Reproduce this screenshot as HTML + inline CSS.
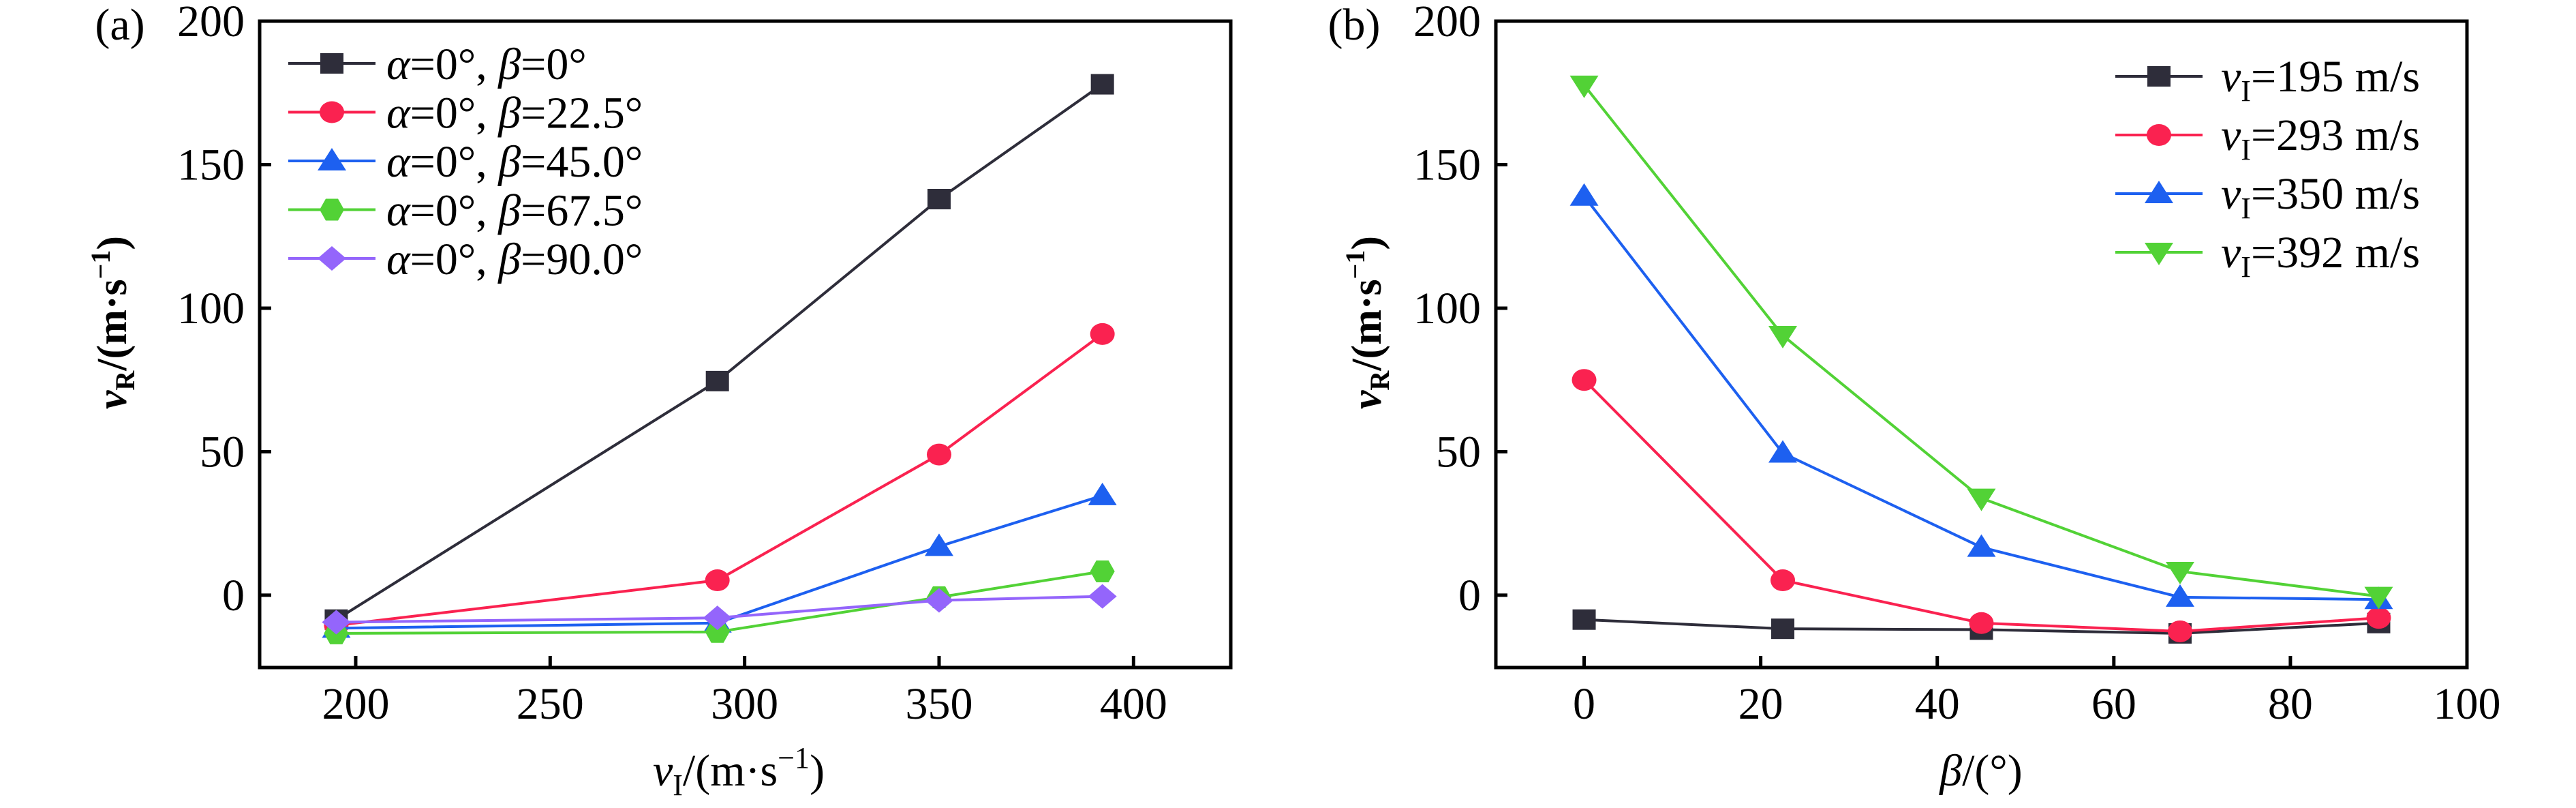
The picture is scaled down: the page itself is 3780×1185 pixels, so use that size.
<!DOCTYPE html>
<html><head><meta charset="utf-8"><style>
html,body{margin:0;padding:0;background:#fff}
svg{display:block}
text,tspan{font-family:"Liberation Serif","Times New Roman",serif}
</style></head><body>
<svg id="chart" width="3780" height="1185" viewBox="0 0 3780 1185" xmlns="http://www.w3.org/2000/svg" font-family="Liberation Serif, serif">
<g id="pa"></g>
<g id="pb"></g>
</svg>
<script>
// Panel (a) data
const aX = [195, 293, 350, 392];
const aS0 = [-8.5, 74.6, 138, 178];
const aS22 = [-10.5, 5.2, 49, 91];
const aS45 = [-11.5, -9.7, 17, 34.7];
const aS67 = [-13.3, -12.8, -0.7, 8.3];
const aS90 = [-9.4, -7.9, -1.8, -0.4];
const aXTicks = [200, 250, 300, 350, 400];
const aYTicks = [0, 50, 100, 150, 200];
const aLabels = ['22.5', '45.0', '67.5', '90.0'];
// Panel (b) data
const bX = [0, 22.5, 45, 67.5, 90];
const b195 = [-8.5, -11.7, -12, -13.3, -9.7];
const b293 = [75, 5.2, -9.7, -12.6, -7.9];
const b350 = [139, 49.5, 16.7, -0.7, -1.5];
const b392 = [177.7, 90.5, 33.8, 8.3, -0.4];
const bXTicks = [0, 20, 40, 60, 80, 100];
const bYTicks = [0, 50, 100, 150, 200];
const bVel = ['195', '293', '350', '392'];

const NS = 'http://www.w3.org/2000/svg';
const FF = 'Liberation Serif, serif';
function mk(parent, tag, attrs, text) {
  const e = document.createElementNS(NS, tag);
  for (const k in attrs) e.setAttribute(k, attrs[k]);
  if (tag === 'text') e.setAttribute('font-family', FF);
  if (text !== undefined) e.textContent = text;
  parent.appendChild(e);
  return e;
}
const C = {k:'#2e2d3a', r:'#fa2250', b:'#1d60f0', g:'#52d236', p:'#9465fb'};

function marker(g, type, cx, cy, color) {
  let e;
  if (type === 'sq') e = mk(g, 'rect', {x:cx-17, y:cy-15, width:34, height:30, fill:color});
  else if (type === 'ci') e = mk(g, 'ellipse', {cx:cx, cy:cy, rx:18, ry:16, fill:color});
  else if (type === 'tu') e = mk(g, 'polygon', {points:`${cx},${cy-19} ${cx+21},${cy+14} ${cx-21},${cy+14}`, fill:color});
  else if (type === 'td') e = mk(g, 'polygon', {points:`${cx},${cy+19} ${cx+21},${cy-14} ${cx-21},${cy-14}`, fill:color});
  else if (type === 'hx') e = mk(g, 'polygon', {points:`${cx-9},${cy-16} ${cx+9},${cy-16} ${cx+18},${cy} ${cx+9},${cy+16} ${cx-9},${cy+16} ${cx-18},${cy}`, fill:color});
  else if (type === 'di') e = mk(g, 'polygon', {points:`${cx},${cy-18} ${cx+21},${cy} ${cx},${cy+18} ${cx-21},${cy}`, fill:color});
  return e;
}

function panel(g, o) {
  const sx = v => o.L + (v - o.x0) / (o.x1 - o.x0) * (o.R - o.L);
  const sy = v => o.B - (v - o.y0) / (o.y1 - o.y0) * (o.B - o.T);
  const fr = mk(g, 'rect', {x:o.L, y:o.T, width:o.R-o.L, height:o.B-o.T, fill:'none', stroke:'#000', 'stroke-width':5});
  
  
  o.xt.forEach(t => {
    const x = sx(t);
    const tk = mk(g, 'line', {x1:x, x2:x, y1:o.B, y2:o.B-17, stroke:'#000', 'stroke-width':5});
    
    
    const tl = mk(g, 'text', {x:x, y:1054, 'font-size':66, 'text-anchor':'middle'}, String(t));
    
    
  });
  o.yt.forEach(t => {
    const y = sy(t);
    const tk = mk(g, 'line', {x1:o.L, x2:o.L+17, y1:y, y2:y, stroke:'#000', 'stroke-width':5});
    
    
    const tl = mk(g, 'text', {x:o.L-22, y:y+22, 'font-size':66, 'text-anchor':'end'}, String(t));
    
    
  });
  o.series.forEach(s => {
    const sg = mk(g, 'g', {});
    
    
    const pts = o.xs.map((x, i) => sx(x) + ',' + sy(s.v[i])).join(' ');
    const pl = mk(sg, 'polyline', {points:pts, fill:'none', stroke:s.c, 'stroke-width':4});
    
    
    o.xs.forEach((x, i) => {
      const m = marker(sg, s.m, sx(x), sy(s.v[i]), s.c);
      
      
    });
  });
}

const ga = document.getElementById('pa');
panel(ga, {L:381, R:1806, T:31, B:979, x0:175.3, x1:425, y0:-25.2, y1:200, xs:aX, xt:aXTicks, yt:aYTicks,
  series:[{name:'beta0', v:aS0, c:C.k, m:'sq'}, {name:'beta22', v:aS22, c:C.r, m:'ci'},
          {name:'beta45', v:aS45, c:C.b, m:'tu'}, {name:'beta67', v:aS67, c:C.g, m:'hx'},
          {name:'beta90', v:aS90, c:C.p, m:'di'}]});
const gb = document.getElementById('pb');
panel(gb, {L:2195, R:3620, T:31, B:979, x0:-10, x1:100, y0:-25.2, y1:200, xs:bX, xt:bXTicks, yt:bYTicks,
  series:[{name:'v195', v:b195, c:C.k, m:'sq'}, {name:'v293', v:b293, c:C.r, m:'ci'},
          {name:'v350', v:b350, c:C.b, m:'tu'}, {name:'v392', v:b392, c:C.g, m:'td'}]});

// legend a
const la = mk(ga, 'g', {});


const aLeg = [['0', C.k, 'sq'], [aLabels[0], C.r, 'ci'], [aLabels[1], C.b, 'tu'], [aLabels[2], C.g, 'hx'], [aLabels[3], C.p, 'di']];
aLeg.forEach((d, i) => {
  const y = 93 + i * 71.5;
  const e = mk(la, 'g', {});
  
  
  mk(e, 'line', {x1:423, x2:551, y1:y, y2:y, stroke:d[1], 'stroke-width':4});
  marker(e, d[2], 487, y, d[1]);
  const t = mk(e, 'text', {x:567, y:y+23, 'font-size':66});
  mk(t, 'tspan', {'font-style':'italic'}, 'α');
  mk(t, 'tspan', {}, '=0°, ');
  mk(t, 'tspan', {'font-style':'italic'}, 'β');
  mk(t, 'tspan', {}, '=' + d[0] + '°');
});
// legend b
const lb = mk(gb, 'g', {});


const bLeg = [[C.k, 'sq'], [C.r, 'ci'], [C.b, 'tu'], [C.g, 'td']];
bLeg.forEach((d, i) => {
  const y = 112 + i * 86;
  const e = mk(lb, 'g', {});
  
  
  mk(e, 'line', {x1:3104, x2:3232, y1:y, y2:y, stroke:d[0], 'stroke-width':4});
  marker(e, d[1], 3168, y, d[0]);
  const t = mk(e, 'text', {x:3259, y:y+22, 'font-size':66});
  mk(t, 'tspan', {'font-style':'italic'}, 'v');
  mk(t, 'tspan', {'font-size':44, dy:14}, 'I');
  mk(t, 'tspan', {dy:-14}, '=' + bVel[i] + ' m/s');
});
</script>
<script>
const svg = document.getElementById('chart');
function T(attrs, html, name) {
  const e = document.createElementNS('http://www.w3.org/2000/svg', 'text');
  for (const k in attrs) e.setAttribute(k, attrs[k]);
  e.setAttribute('font-family', 'Liberation Serif, serif');
  e.innerHTML = html;
  
  
  svg.appendChild(e);
}
T({x:176, y:58, 'font-size':66, 'text-anchor':'middle'}, '(a)', 'panel-a-label');
T({x:1987, y:58, 'font-size':66, 'text-anchor':'middle'}, '(b)', 'panel-b-label');
const ytitle = '<tspan font-style="italic">v</tspan><tspan font-size="40" dy="12">R</tspan><tspan dy="-12">/(m·s</tspan><tspan font-size="40" dy="-24">−1</tspan><tspan dy="24">)</tspan>';
T({x:0, y:0, 'font-size':62, 'font-weight':'bold', 'text-anchor':'middle', transform:'translate(185,473) rotate(-90)'}, ytitle, 'y-axis-title-a');
T({x:0, y:0, 'font-size':62, 'font-weight':'bold', 'text-anchor':'middle', transform:'translate(2026,473) rotate(-90)'}, ytitle, 'y-axis-title-b');
T({x:1084, y:1152, 'font-size':66, 'text-anchor':'middle'}, '<tspan font-style="italic">v</tspan><tspan font-size="44" dy="14">I</tspan><tspan dy="-14">/(m·s</tspan><tspan font-size="44" dy="-26">−1</tspan><tspan dy="26">)</tspan>', 'x-axis-title-a');
T({x:2907, y:1152, 'font-size':66, 'text-anchor':'middle'}, '<tspan font-style="italic">β</tspan>/(°)', 'x-axis-title-b');
</script>
</body></html>
